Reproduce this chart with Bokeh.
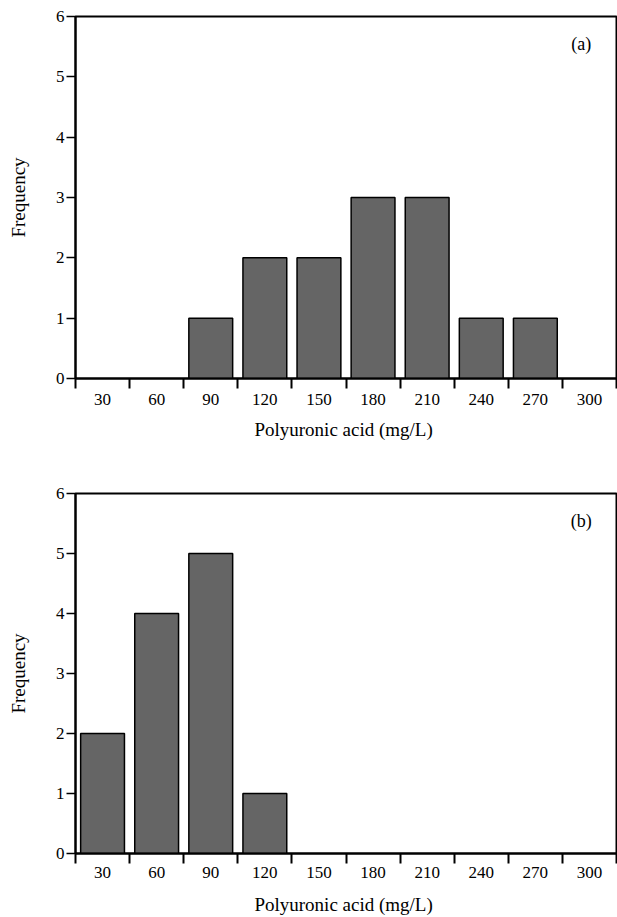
import numpy as np
from bokeh.plotting import figure
from bokeh.models import FixedTicker, Range1d, Label, ColumnDataSource
from bokeh.layouts import column
from bokeh.embed import file_html
from bokeh.resources import INLINE

# ---- data ----
bins = ["30", "60", "90", "120", "150", "180", "210", "240", "270", "300"]
freq_a = [0, 0, 1, 2, 2, 3, 3, 1, 1, 0]
freq_b = [2, 4, 5, 1, 0, 0, 0, 0, 0, 0]
y_ticks = [0, 1, 2, 3, 4, 5, 6]
panel_labels = ["(a)", "(b)"]
x_title = "Polyuronic acid  (mg/L)"
y_title = "Frequency"

FONT = "Liberation Serif"
BAR_FILL = "#656565"


def make_panel(freq, tag, height, border_top, border_bottom, tick_standoff, label_standoff):
    n = len(bins)
    p = figure(width=617, height=height, output_backend="svg", toolbar_location=None,
               x_range=Range1d(0, n), y_range=Range1d(0, 6),
               min_border_left=75, min_border_right=1,
               min_border_top=border_top, min_border_bottom=border_bottom)
    p.background_fill_color = "white"
    p.border_fill_color = "white"
    p.outline_line_color = "black"
    p.outline_line_width = 2
    p.xgrid.visible = False
    p.ygrid.visible = False

    idx = [i for i, f in enumerate(freq) if f > 0]
    src = ColumnDataSource(dict(x=[i + 0.5 for i in idx], top=[freq[i] for i in idx]))
    p.vbar(x="x", top="top", bottom=0, width=0.81, source=src,
           fill_color=BAR_FILL, line_color="black", line_width=1.5)

    centers = [i + 0.5 for i in range(n)]
    xa = p.xaxis[0]
    xa.ticker = FixedTicker(ticks=centers, minor_ticks=list(range(n + 1)))
    xa.major_label_overrides = {c: b for c, b in zip(centers, bins)}
    xa.major_tick_out = 0
    xa.major_tick_in = 0
    xa.minor_tick_out = 10
    xa.minor_tick_in = 0
    xa.minor_tick_line_width = 2
    xa.minor_tick_line_color = "black"
    xa.axis_line_width = 2
    xa.axis_line_color = "black"
    xa.major_label_standoff = tick_standoff
    xa.major_label_text_font = FONT
    xa.major_label_text_font_size = "17px"
    xa.major_label_text_color = "black"
    xa.axis_label = x_title
    xa.axis_label_text_font = FONT
    xa.axis_label_text_font_size = "19px"
    xa.axis_label_text_font_style = "normal"
    xa.axis_label_text_color = "black"
    xa.axis_label_standoff = label_standoff

    ya = p.yaxis[0]
    ya.ticker = FixedTicker(ticks=y_ticks, minor_ticks=[])
    ya.major_tick_out = 9
    ya.major_tick_in = 0
    ya.major_tick_line_width = 1.5
    ya.major_tick_line_color = "black"
    ya.minor_tick_out = 0
    ya.minor_tick_in = 0
    ya.axis_line_width = 2
    ya.axis_line_color = "black"
    ya.major_label_standoff = 2
    ya.major_label_text_font = FONT
    ya.major_label_text_font_size = "17px"
    ya.major_label_text_color = "black"
    ya.axis_label = y_title
    ya.axis_label_text_font = FONT
    ya.axis_label_text_font_size = "19px"
    ya.axis_label_text_font_style = "normal"
    ya.axis_label_text_color = "black"
    ya.axis_label_standoff = 24

    p.add_layout(Label(x=9.35, y=5.55, text=tag, text_font=FONT, text_font_size="18px",
                       text_color="black", text_align="center", text_baseline="middle"))
    return p


pa = make_panel(freq_a, panel_labels[0], height=446, border_top=16, border_bottom=68,
                tick_standoff=5, label_standoff=11)
pb = make_panel(freq_b, panel_labels[1], height=471, border_top=47, border_bottom=63,
                tick_standoff=3, label_standoff=13)

layout = column(pa, pb, spacing=0)
open("out.html", "w").write(file_html(layout, INLINE))
